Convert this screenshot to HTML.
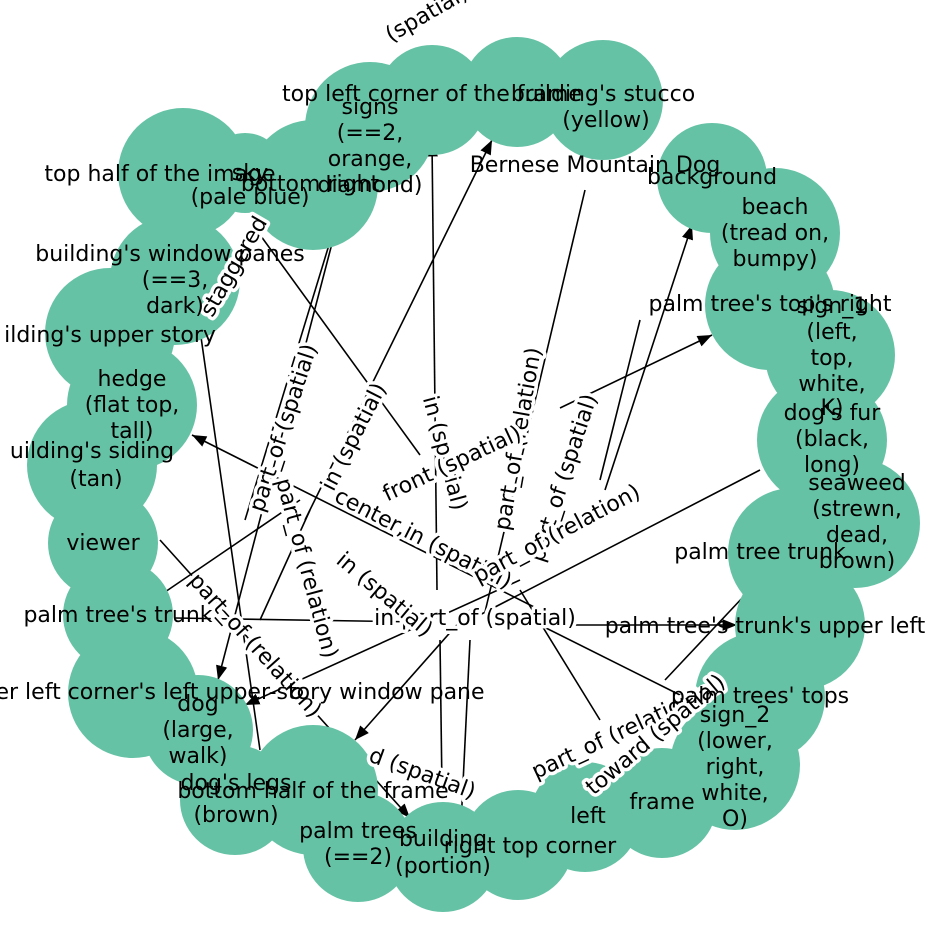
<!DOCTYPE html>
<html><head><meta charset="utf-8"><style>
html,body{margin:0;padding:0;background:#fff;}
svg{display:block;}
text{font-family:"DejaVu Sans","Liberation Sans",sans-serif;font-size:22px;fill:#000;}
.el text{paint-order:stroke;stroke:#fff;stroke-width:7px;stroke-linejoin:round;}
</style></head><body>
<svg width="948" height="948" viewBox="0 0 948 948" xmlns="http://www.w3.org/2000/svg">
<defs><marker id="a" viewBox="0 0 10 10" refX="10" refY="5" markerWidth="9" markerHeight="9" orient="auto-start-reverse"><path d="M0,1 L10,5 L0,9 z" fill="#000"/></marker></defs>
<g stroke="#000" stroke-width="1.6" fill="none">
<line x1="437" y1="590" x2="432" y2="142" marker-end="url(#a)"/>
<line x1="305" y1="520" x2="492" y2="140" marker-end="url(#a)"/>
<line x1="585" y1="190" x2="485" y2="612"/>
<line x1="560" y1="408" x2="712" y2="335" marker-end="url(#a)"/>
<line x1="605" y1="490" x2="692" y2="225" marker-end="url(#a)"/>
<line x1="540" y1="610" x2="192" y2="435" marker-end="url(#a)"/>
<line x1="245" y1="520" x2="332" y2="235"/>
<line x1="335" y1="232" x2="218" y2="680" marker-end="url(#a)"/>
<line x1="760" y1="470" x2="470" y2="620"/>
<line x1="540" y1="625" x2="737" y2="625" marker-end="url(#a)"/>
<line x1="745" y1="595" x2="665" y2="680"/>
<line x1="520" y1="580" x2="245" y2="705" marker-end="url(#a)"/>
<line x1="470" y1="610" x2="355" y2="740" marker-end="url(#a)"/>
<line x1="160" y1="540" x2="410" y2="818" marker-end="url(#a)"/>
<line x1="600" y1="720" x2="520" y2="590"/>
<line x1="165" y1="592" x2="300" y2="500"/>
<line x1="175" y1="618" x2="420" y2="622"/>
<line x1="258" y1="232" x2="420" y2="455"/>
<line x1="470" y1="640" x2="460" y2="845"/>
<line x1="440" y1="640" x2="442" y2="790"/>
<line x1="690" y1="700" x2="540" y2="625"/>
<line x1="260" y1="620" x2="310" y2="510"/>
<line x1="200" y1="330" x2="260" y2="750"/>
<line x1="640" y1="320" x2="600" y2="480"/>
</g>
<g fill="#66c2a5">
<circle cx="183" cy="173" r="65"/><circle cx="245" cy="173" r="40"/><circle cx="313" cy="185" r="65"/>
<circle cx="370" cy="127" r="65"/><circle cx="432" cy="100" r="55"/><circle cx="517" cy="92" r="55"/>
<circle cx="603" cy="100" r="60"/><circle cx="712" cy="178" r="55"/><circle cx="775" cy="233" r="65"/>
<circle cx="770" cy="305" r="65"/><circle cx="830" cy="355" r="65"/><circle cx="822" cy="440" r="65"/>
<circle cx="855" cy="523" r="65"/><circle cx="793" cy="553" r="65"/><circle cx="800" cy="625" r="65"/>
<circle cx="760" cy="697" r="65"/><circle cx="735" cy="765" r="65"/><circle cx="662" cy="803" r="55"/>
<circle cx="585" cy="817" r="55"/><circle cx="518" cy="845" r="55"/><circle cx="443" cy="857" r="55"/>
<circle cx="358" cy="847" r="55"/><circle cx="313" cy="790" r="65"/><circle cx="235" cy="800" r="55"/>
<circle cx="198" cy="730" r="55"/><circle cx="133" cy="693" r="65"/><circle cx="118" cy="615" r="55"/>
<circle cx="103" cy="543" r="55"/><circle cx="92" cy="465" r="65"/><circle cx="132" cy="405" r="65"/>
<circle cx="110" cy="333" r="65"/><circle cx="175" cy="280" r="65"/>
</g>
<g text-anchor="middle" class="el">
<text transform="translate(438,455) rotate(75)">in (spatial)</text>
<text transform="translate(360,440) rotate(-63)">in (spatial)</text>
<text transform="translate(525,440) rotate(-80)">part_of (relation)</text>
<text transform="translate(455,470) rotate(-25)">front (spatial)</text>
<text transform="translate(570,480) rotate(-72)">part_of (spatial)</text>
<text transform="translate(420,545) rotate(27)">center,in (spatial)</text>
<text transform="translate(290,430) rotate(-72)">part_of (spatial)</text>
<text transform="translate(300,570) rotate(75)">part_of (relation)</text>
<text transform="translate(560,540) rotate(-28)">part_of (relation)</text>
<text transform="translate(475,625)">in part_of (spatial)</text>
<text transform="translate(250,650) rotate(48)">part_of (relation)</text>
<text transform="translate(380,600) rotate(40)">in (spatial)</text>
<text transform="translate(620,740) rotate(-25)">part_of (relation)</text>
<text transform="translate(660,740) rotate(-40)">toward (spatial)</text>
<text transform="translate(420,780) rotate(20)">d (spatial)</text>
<text transform="translate(240,270) rotate(-60)">staggered</text>
<text transform="translate(430,20) rotate(-30)">(spatial)</text>
</g>
<g text-anchor="middle">
<text x="160" y="181">top half of the image</text>
<text x="250" y="180">sky</text><text x="250" y="204">(pale blue)</text>
<text x="310" y="191">bottom right</text>
<text x="370" y="114">signs</text><text x="370" y="140">(==2,</text><text x="370" y="166">orange,</text><text x="370" y="192">diamond)</text>
<text x="432" y="101">top left corner of the frame</text>
<text x="603" y="101">building's stucco</text><text x="606" y="127">(yellow)</text>
<text x="595" y="172">Bernese Mountain Dog</text>
<text x="712" y="184">background</text>
<text x="775" y="214">beach</text><text x="775" y="240">(tread on,</text><text x="775" y="266">bumpy)</text>
<text x="770" y="311">palm tree's top's right</text>
<text x="832" y="313">sign_1</text><text x="832" y="339">(left,</text><text x="832" y="365">top,</text><text x="832" y="391">white,</text><text x="832" y="415">K)</text>
<text x="832" y="420">dog's fur</text><text x="832" y="446">(black,</text><text x="832" y="472">long)</text>
<text x="857" y="490">seaweed</text><text x="857" y="516">(strewn,</text><text x="857" y="542">dead,</text><text x="857" y="568">brown)</text>
<text x="760" y="559">palm tree trunk</text>
<text x="765" y="633">palm tree's trunk's upper left</text>
<text x="760" y="703">palm trees' tops</text>
<text x="735" y="722">sign_2</text><text x="735" y="748">(lower,</text><text x="735" y="774">right,</text><text x="735" y="800">white,</text><text x="735" y="826">O)</text>
<text x="662" y="809">frame</text>
<text x="588" y="823">left</text>
<text x="530" y="853">right top corner</text>
<text x="443" y="846">building</text><text x="443" y="873">(portion)</text>
<text x="358" y="838">palm trees</text><text x="358" y="864">(==2)</text>
<text x="313" y="798">bottom half of the frame</text>
<text x="236" y="790">dog's legs</text><text x="236" y="822">(brown)</text>
<text x="198" y="711">dog</text><text x="198" y="737">(large,</text><text x="198" y="763">walk)</text>
<text x="240" y="699">er left corner's left upper-story window pane</text>
<text x="118" y="622">palm tree's trunk</text>
<text x="103" y="550">viewer</text>
<text x="92" y="458">uilding's siding</text><text x="96" y="486">(tan)</text>
<text x="132" y="386">hedge</text><text x="132" y="412">(flat top,</text><text x="132" y="438">tall)</text>
<text x="110" y="342">ilding's upper story</text>
<text x="170" y="261">building's window panes</text><text x="175" y="287">(==3,</text><text x="175" y="313">dark)</text>
</g>
</svg>
</body></html>
